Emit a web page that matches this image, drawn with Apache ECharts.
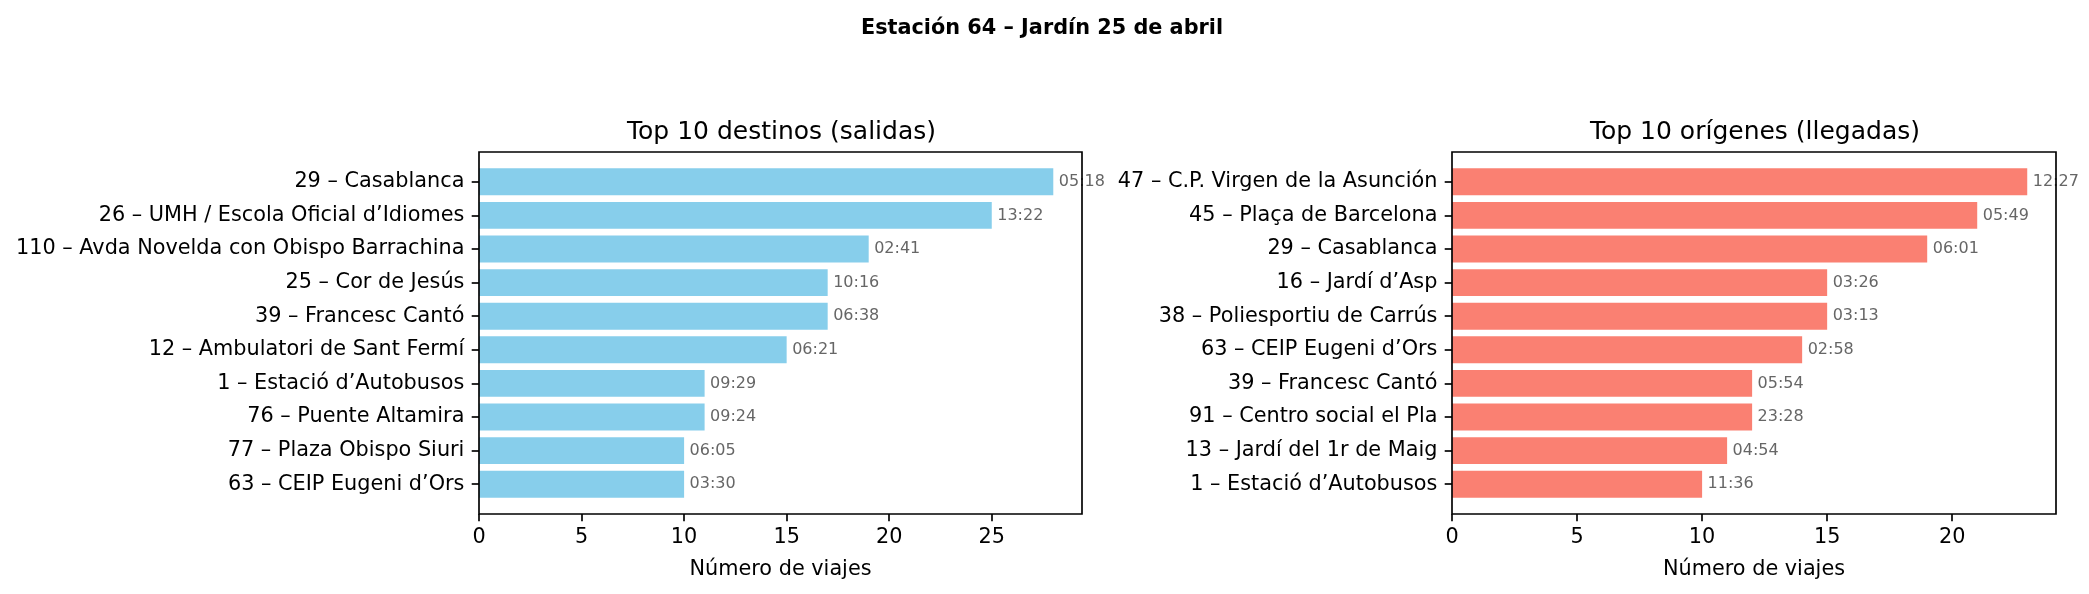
<!DOCTYPE html>
<html>
<head>
<meta charset="utf-8">
<script src="https://cdn.jsdelivr.net/npm/echarts@6/dist/echarts.min.js"></script>
<style>
  html, body { margin: 0; padding: 0; background: #fff; }
  #chart { width: 2089px; height: 594px; }
</style>
</head>
<body>
<div id="chart"></div>
<script>
// salidas (destinos)
const destinos = [
  "29 – Casablanca",
  "26 – UMH / Escola Oficial d’Idiomes",
  "110 – Avda Novelda con Obispo Barrachina",
  "25 – Cor de Jesús",
  "39 – Francesc Cantó",
  "12 – Ambulatori de Sant Fermí",
  "1 – Estació d’Autobusos",
  "76 – Puente Altamira",
  "77 – Plaza Obispo Siuri",
  "63 – CEIP Eugeni d’Ors"
];
const viajesSalidas = [28, 25, 19, 17, 17, 15, 11, 11, 10, 10];
const horaSalidas = ["05:18", "13:22", "02:41", "10:16", "06:38", "06:21", "09:29", "09:24", "06:05", "03:30"];

// llegadas (origenes)
const origenes = [
  "47 – C.P. Virgen de la Asunción",
  "45 – Plaça de Barcelona",
  "29 – Casablanca",
  "16 – Jardí d’Asp",
  "38 – Poliesportiu de Carrús",
  "63 – CEIP Eugeni d’Ors",
  "39 – Francesc Cantó",
  "91 – Centro social el Pla",
  "13 – Jardí del 1r de Maig",
  "1 – Estació d’Autobusos"
];
const viajesLlegadas = [23, 21, 19, 15, 15, 14, 12, 12, 11, 10];
const horaLlegadas = ["12:27", "05:49", "06:01", "03:26", "03:13", "02:58", "05:54", "23:28", "04:54", "11:36"];

const ticksSalidas = [0, 5, 10, 15, 20, 25];
const ticksLlegadas = [0, 5, 10, 15, 20];

// layout (px)
const FONT = "DejaVu Sans";
const frameTop = 152, frameBottom = 514;
const pad = 13;                 // margen entre marco y primera/ultima categoria
const panels = [
  { left: 479, width: 603 },
  { left: 1452, width: 604 }
];
const lw = 1.67, tickLen = 7.3;

const myChart = echarts.init(document.getElementById('chart'));

function xAxisFor(i, maxVal, ticks) {
  return {
    type: 'value',
    gridIndex: i,
    min: 0,
    max: maxVal,
    offset: pad,
    axisLine: { show: false },
    splitLine: { show: false },
    axisTick: {
      show: true, length: tickLen, customValues: ticks,
      lineStyle: { color: '#000', width: lw }
    },
    axisLabel: {
      customValues: ticks, margin: 13,
      fontFamily: FONT, fontSize: 20.8, color: '#000'
    },
    name: 'Número de viajes',
    nameLocation: 'middle',
    nameGap: 45,
    nameTextStyle: { fontFamily: FONT, fontSize: 20.8, color: '#000' }
  };
}

function yAxisFor(i, cats) {
  return {
    type: 'category',
    gridIndex: i,
    inverse: true,
    data: cats,
    axisLine: { show: false },
    axisTick: {
      show: true, alignWithLabel: true, length: tickLen,
      lineStyle: { color: '#000', width: lw }
    },
    axisLabel: {
      margin: tickLen * 2,
      fontFamily: FONT, fontSize: 20.8, color: '#000'
    }
  };
}

function barSeries(i, vals, horas, color) {
  return {
    type: 'bar',
    xAxisIndex: i,
    yAxisIndex: i,
    data: vals,
    barWidth: '80%',
    itemStyle: { color: color },
    label: {
      show: true,
      position: 'right',
      distance: 5.5,
      formatter: p => horas[p.dataIndex],
      fontFamily: FONT,
      fontSize: 16,
      color: '#666'
    }
  };
}

const option = {
  animation: false,
  backgroundColor: '#fff',
  title: [
    {
      text: 'Estación 64 – Jardín 25 de abril',
      left: 1037, top: 13, textAlign: 'center',
      textStyle: { fontFamily: FONT, fontSize: 20.8, fontWeight: 'bold', color: '#000' }
    },
    {
      text: 'Top 10 destinos (salidas)',
      left: panels[0].left + panels[0].width / 2 - 4, top: 115, textAlign: 'center',
      textStyle: { fontFamily: FONT, fontSize: 25, fontWeight: 'normal', color: '#000' }
    },
    {
      text: 'Top 10 orígenes (llegadas)',
      left: panels[1].left + panels[1].width / 2 - 4, top: 115, textAlign: 'center',
      textStyle: { fontFamily: FONT, fontSize: 25, fontWeight: 'normal', color: '#000' }
    }
  ],
  grid: panels.map(p => ({
    left: p.left,
    width: p.width,
    top: frameTop + pad,
    height: frameBottom - frameTop - 2 * pad
  })),
  xAxis: [
    xAxisFor(0, 28 * 1.05, ticksSalidas),
    xAxisFor(1, 23 * 1.05, ticksLlegadas)
  ],
  yAxis: [
    yAxisFor(0, destinos),
    yAxisFor(1, origenes)
  ],
  series: [
    barSeries(0, viajesSalidas, horaSalidas, '#87CEEB'),
    barSeries(1, viajesLlegadas, horaLlegadas, '#FA8072')
  ],
  // marco de cada panel (spines)
  graphic: panels.map(p => ({
    type: 'rect',
    z: 100,
    silent: true,
    shape: { x: p.left, y: frameTop, width: p.width, height: frameBottom - frameTop },
    style: { fill: null, stroke: '#000', lineWidth: lw }
  }))
};

myChart.setOption(option);
</script>
</body>
</html>
